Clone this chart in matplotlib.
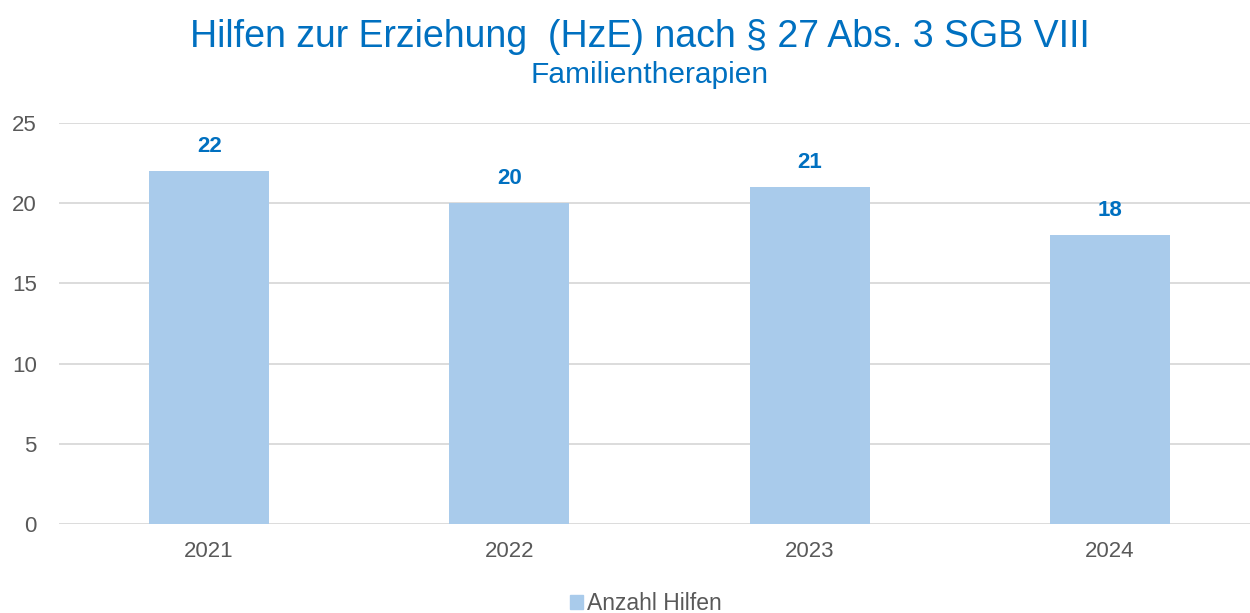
import matplotlib.pyplot as plt
from matplotlib.patches import Patch

plt.rcParams['font.family'] = ['Liberation Sans', 'DejaVu Sans']

years = ["2021", "2022", "2023", "2024"]
anzahl_hilfen = [22, 20, 21, 18]

blue = "#0070C0"
bar_color = "#A9CBEB"
gray = "#595959"

fig = plt.figure(figsize=(12.5, 6.13), dpi=100)
ax = fig.add_axes([59 / 1250, 1 - 524 / 613, 1201 / 1250, 401 / 613])

x = range(len(years))
bars = ax.bar(x, anzahl_hilfen, width=0.4, color=bar_color, zorder=2)
for xi, v in zip(x, anzahl_hilfen):
    ax.annotate(str(v), (xi, v), xytext=(0, 10.5), textcoords="offset points",
                ha="center", va="bottom", fontsize=16, fontweight="bold", color=blue)

ax.set_xlim(-0.5, 3.5)
ax.set_ylim(0, 25)
ax.set_yticks([0, 5, 10, 15, 20, 25])
ax.set_xticks(list(x))
ax.set_xticklabels(years)
ax.tick_params(axis="both", length=0, labelsize=16, labelcolor=gray)
ax.tick_params(axis="y", pad=16)
ax.tick_params(axis="x", pad=12)
ax.grid(axis="y", color="#D9D9D9", linewidth=1.3, zorder=0)
for s in ax.spines.values():
    s.set_visible(False)

fig.text(0.512, 1 - 47 / 613, "Hilfen zur Erziehung  (HzE) nach § 27 Abs. 3 SGB VIII",
         ha="center", va="baseline", fontsize=27, color=blue)
fig.text(0.5195, 1 - 83 / 613, "Familientherapien",
         ha="center", va="baseline", fontsize=21.5, color=blue)

fig.legend(handles=[Patch(color=bar_color, label="Anzahl Hilfen")],
           loc="center", bbox_to_anchor=(0.517, 1 - 604 / 613), frameon=False,
           fontsize=16.5, labelcolor=gray, handlelength=0.55, handleheight=0.55,
           handletextpad=0.2, borderpad=0)

fig.savefig("out.png", dpi=100)
